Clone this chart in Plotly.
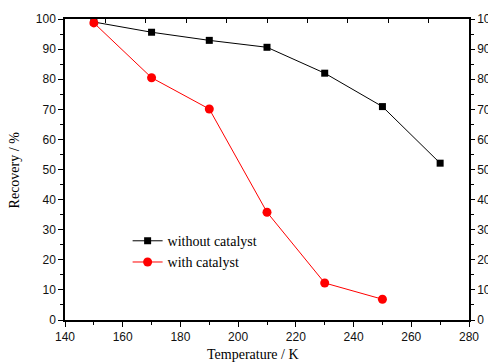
import plotly.graph_objects as go

temps_without = [150, 170, 190, 210, 230, 250, 270]
recovery_without = [99.0, 95.6, 92.9, 90.6, 82.0, 70.9, 52.1]
temps_with = [150, 170, 190, 210, 230, 250]
recovery_with = [98.7, 80.5, 70.1, 35.8, 12.3, 6.9]

x_ticks = [140, 160, 180, 200, 220, 240, 260, 280]
y_ticks = [0, 10, 20, 30, 40, 50, 60, 70, 80, 90, 100]

serif = "Liberation Serif, Times New Roman, serif"
sans = "Liberation Sans, Arial, sans-serif"

fig = go.Figure()
fig.add_trace(go.Scatter(
    x=temps_without, y=recovery_without, mode="lines+markers",
    name="without catalyst",
    line=dict(color="black", width=1),
    marker=dict(symbol="square", size=7, color="black"),
))
fig.add_trace(go.Scatter(
    x=temps_with, y=recovery_with, mode="lines+markers",
    name="with catalyst",
    line=dict(color="red", width=1),
    marker=dict(symbol="circle", size=9, color="red"),
))
# invisible trace to activate secondary axes
fig.add_trace(go.Scatter(x=[None], y=[None], xaxis="x2", yaxis="y2",
                         showlegend=False, hoverinfo="skip"))

fig.update_layout(
    width=488, height=356,
    margin=dict(l=57, r=27, t=11, b=44),
    paper_bgcolor="white", plot_bgcolor="white",
    showlegend=True,
    legend=dict(
        x=0.155, y=0.315, xanchor="left", yanchor="top",
        bgcolor="rgba(0,0,0,0)",
        font=dict(family=serif, size=14, color="black"),
        tracegroupgap=0, itemwidth=30,
    ),
    xaxis=dict(
        range=[140, 280], tickvals=x_ticks, ticks="outside", ticklen=5,
        tickwidth=1, tickcolor="black", automargin=False,
        minor=dict(dtick=10, ticks="outside", ticklen=3, tickcolor="black"),
        showline=True, linecolor="black", linewidth=1.5,
        showgrid=False, zeroline=False,
        tickfont=dict(family=sans, size=12, color="#111"),
    ),
    xaxis2=dict(
        overlaying="x", side="top", range=[0, 10], dtick=1,
        ticks="inside", ticklen=4, tickcolor="black", automargin=False,
        showticklabels=False, showline=True, linecolor="black", linewidth=1.5,
        showgrid=False, zeroline=False,
    ),
    yaxis=dict(
        range=[0, 100], tickvals=y_ticks, ticks="outside", ticklen=5,
        tickcolor="black", automargin=False,
        minor=dict(dtick=5, ticks="outside", ticklen=3, tickcolor="black"),
        showline=True, linecolor="black", linewidth=1.5,
        showgrid=False, zeroline=False,
        tickfont=dict(family=sans, size=12, color="#111"),
    ),
    yaxis2=dict(
        overlaying="y", side="right", range=[0, 100], tickvals=y_ticks,
        ticks="outside", ticklen=4, tickcolor="black", automargin=False,
        minor=dict(dtick=5, ticks="outside", ticklen=3, tickcolor="black"),
        showline=True, linecolor="black", linewidth=1.5,
        showgrid=False, zeroline=False,
        tickfont=dict(family=sans, size=12, color="#111"),
    ),
    annotations=[
        dict(text="Temperature / K", xref="paper", yref="paper",
             x=0.465, y=-0.116, xanchor="center", yanchor="middle",
             showarrow=False, font=dict(family=serif, size=14, color="black")),
        dict(text="Recovery / %", xref="paper", yref="paper",
             x=-0.124, y=0.5, xanchor="center", yanchor="middle",
             textangle=-90, showarrow=False,
             font=dict(family=serif, size=14, color="black")),
    ],
)

fig.write_html("out.html")
